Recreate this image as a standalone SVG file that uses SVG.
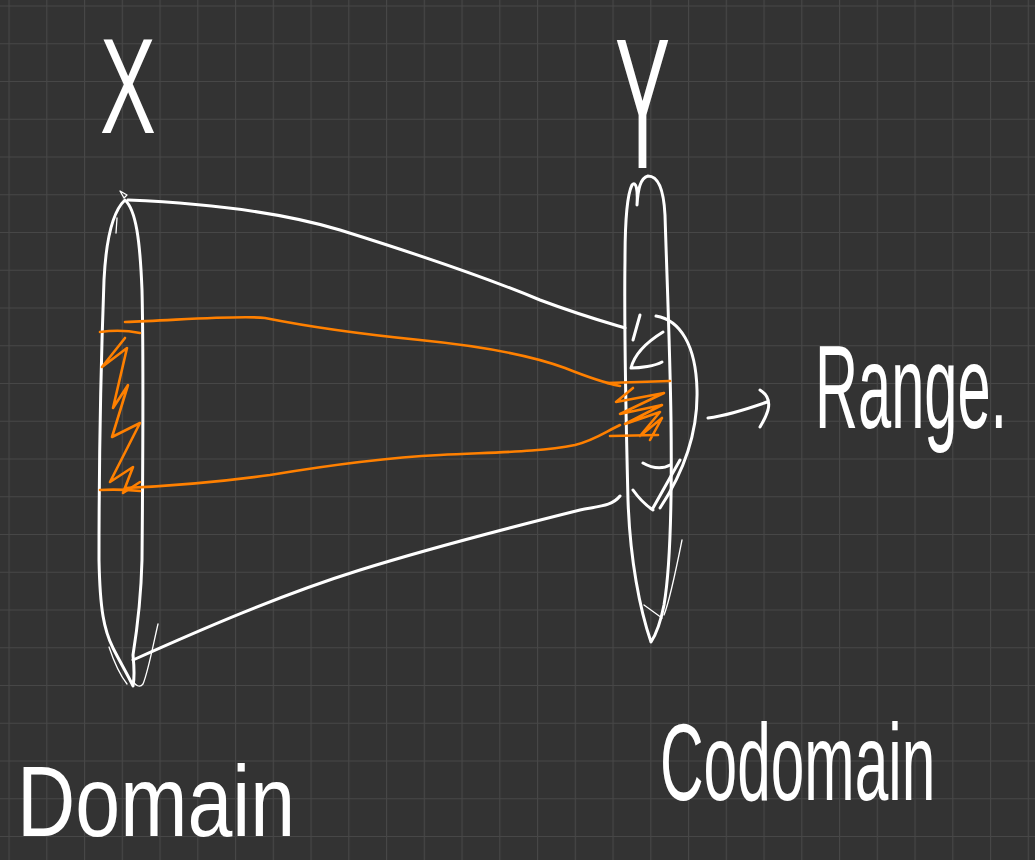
<svg xmlns="http://www.w3.org/2000/svg" width="1035" height="860" viewBox="0 0 1035 860">
  <defs>
    <pattern id="grid" patternUnits="userSpaceOnUse" x="8.5" y="5.5" width="37.75" height="37.75">
      <path d="M0.5,0 V37.75 M0,0.5 H37.75" stroke="#474747" stroke-width="1.2" fill="none"/>
    </pattern>
    <style>
      .ink { fill: none; stroke: #ffffff; stroke-width: 3; stroke-linecap: round; stroke-linejoin: round; }
      .thin { fill: none; stroke: #ffffff; stroke-width: 1.3; stroke-linecap: round; stroke-linejoin: round; }
      .hl { fill: none; stroke: #ff8000; stroke-width: 2.6; stroke-linecap: round; stroke-linejoin: round; }
      .lbl { fill: #ffffff; font-family: "Liberation Sans", Arial, sans-serif; }
    </style>
  </defs>

  <rect width="1035" height="860" fill="#333333"/>
  <rect width="1035" height="860" fill="url(#grid)"/>

  <!-- Domain set X -->
  <g id="set-x">
    <path class="ink" d="M125,200 C112,212 106,240 104,280 C101,360 99,470 99,560 C100,610 104,630 113,648 C120,662 128,675 133,686 C135,676 134,665 133,655 C137,630 141,600 142,560 C143,450 143,330 142,290 C140,240 136,210 125,200 Z"/>
    <path class="thin" d="M124,198 L120,191 L127,195 Z M117,218 L116,233 M109,647 C114,662 120,675 127,684 M158,624 C152,650 148,672 143,684 C140,688 135,686 133,680"/>
    <text class="lbl" transform="translate(100,133) scale(0.62,1)" font-size="135">X</text>
  </g>

  <!-- Codomain set Y -->
  <g id="set-y">
    <path class="ink" d="M651,642 C640,610 630,560 628,500 C626,420 624,330 625,260 C625,220 627,195 632,185 C636,180 638,190 637,205 C638,190 640,178 648,176 C660,176 664,195 665,215 C667,280 670,350 671,420 C672,500 670,570 664,605 C660,625 655,636 651,642 Z"/>
    <path class="thin" d="M644,605 L662,618 M682,540 C676,570 670,600 664,615"/>
    <text class="lbl" transform="translate(615,168) scale(0.446,1)" font-size="185">Y</text>
  </g>

  <!-- Range within Y -->
  <g id="range">
    <path class="ink" d="M656,316 C680,320 696,345 697,390 C698,430 685,470 660,508"/>
    <path class="ink" d="M640,315 L633,340 M663,332 C650,340 635,352 631,368 C640,368 655,366 662,362"/>
    <path class="ink" d="M643,463 C655,470 665,468 670,465 M680,460 L653,508 M633,490 C640,500 647,506 653,510"/>
    <path class="hl" d="M607,383 L670,381 M633,388 L616,402 L664,393 L620,414 L662,405 L625,424 L660,412 L640,436 L662,418 L650,440 M610,436 L658,435"/>
    <path class="ink" d="M708,418 C730,415 750,408 767,402 M760,390 C768,395 770,402 768,410 C766,417 763,422 760,427"/>
    <text class="lbl" transform="translate(815,428) scale(0.505,1)" font-size="118">Range.</text>
  </g>

  <!-- Labels -->
  <g id="label-domain">
    <text class="lbl" transform="translate(17,836) scale(0.807,1)" font-size="100">Domain</text>
  </g>
  <g id="label-codomain">
    <text class="lbl" transform="translate(660,800) scale(0.549,1)" font-size="110">Codomain</text>
  </g>

  <!-- Connectors -->
  <g id="connectors">
    <path class="ink" d="M128,200 C200,203 280,212 340,230 C420,255 480,275 540,300 C580,315 605,322 625,328"/>
    <path class="ink" d="M133,660 C200,630 280,595 360,570 C440,545 520,525 580,510 C600,506 612,506 620,496"/>
    <path class="hl" d="M100,332 C115,330 130,331 140,333 M125,322 C180,320 240,315 265,318 C300,325 350,333 420,340 C480,346 530,355 565,368 C590,378 605,383 620,386"/>
    <path class="hl" d="M125,338 L102,367 L127,348 L113,408 L128,385 L112,437 L140,423 L110,482 L133,467 L123,493 L140,482"/>
    <path class="hl" d="M100,490 C115,489 130,490 140,491 M125,488 C170,486 220,482 270,475 C330,465 380,458 440,455 C500,452 540,452 575,445 C595,440 605,432 620,425"/>
  </g>
</svg>
